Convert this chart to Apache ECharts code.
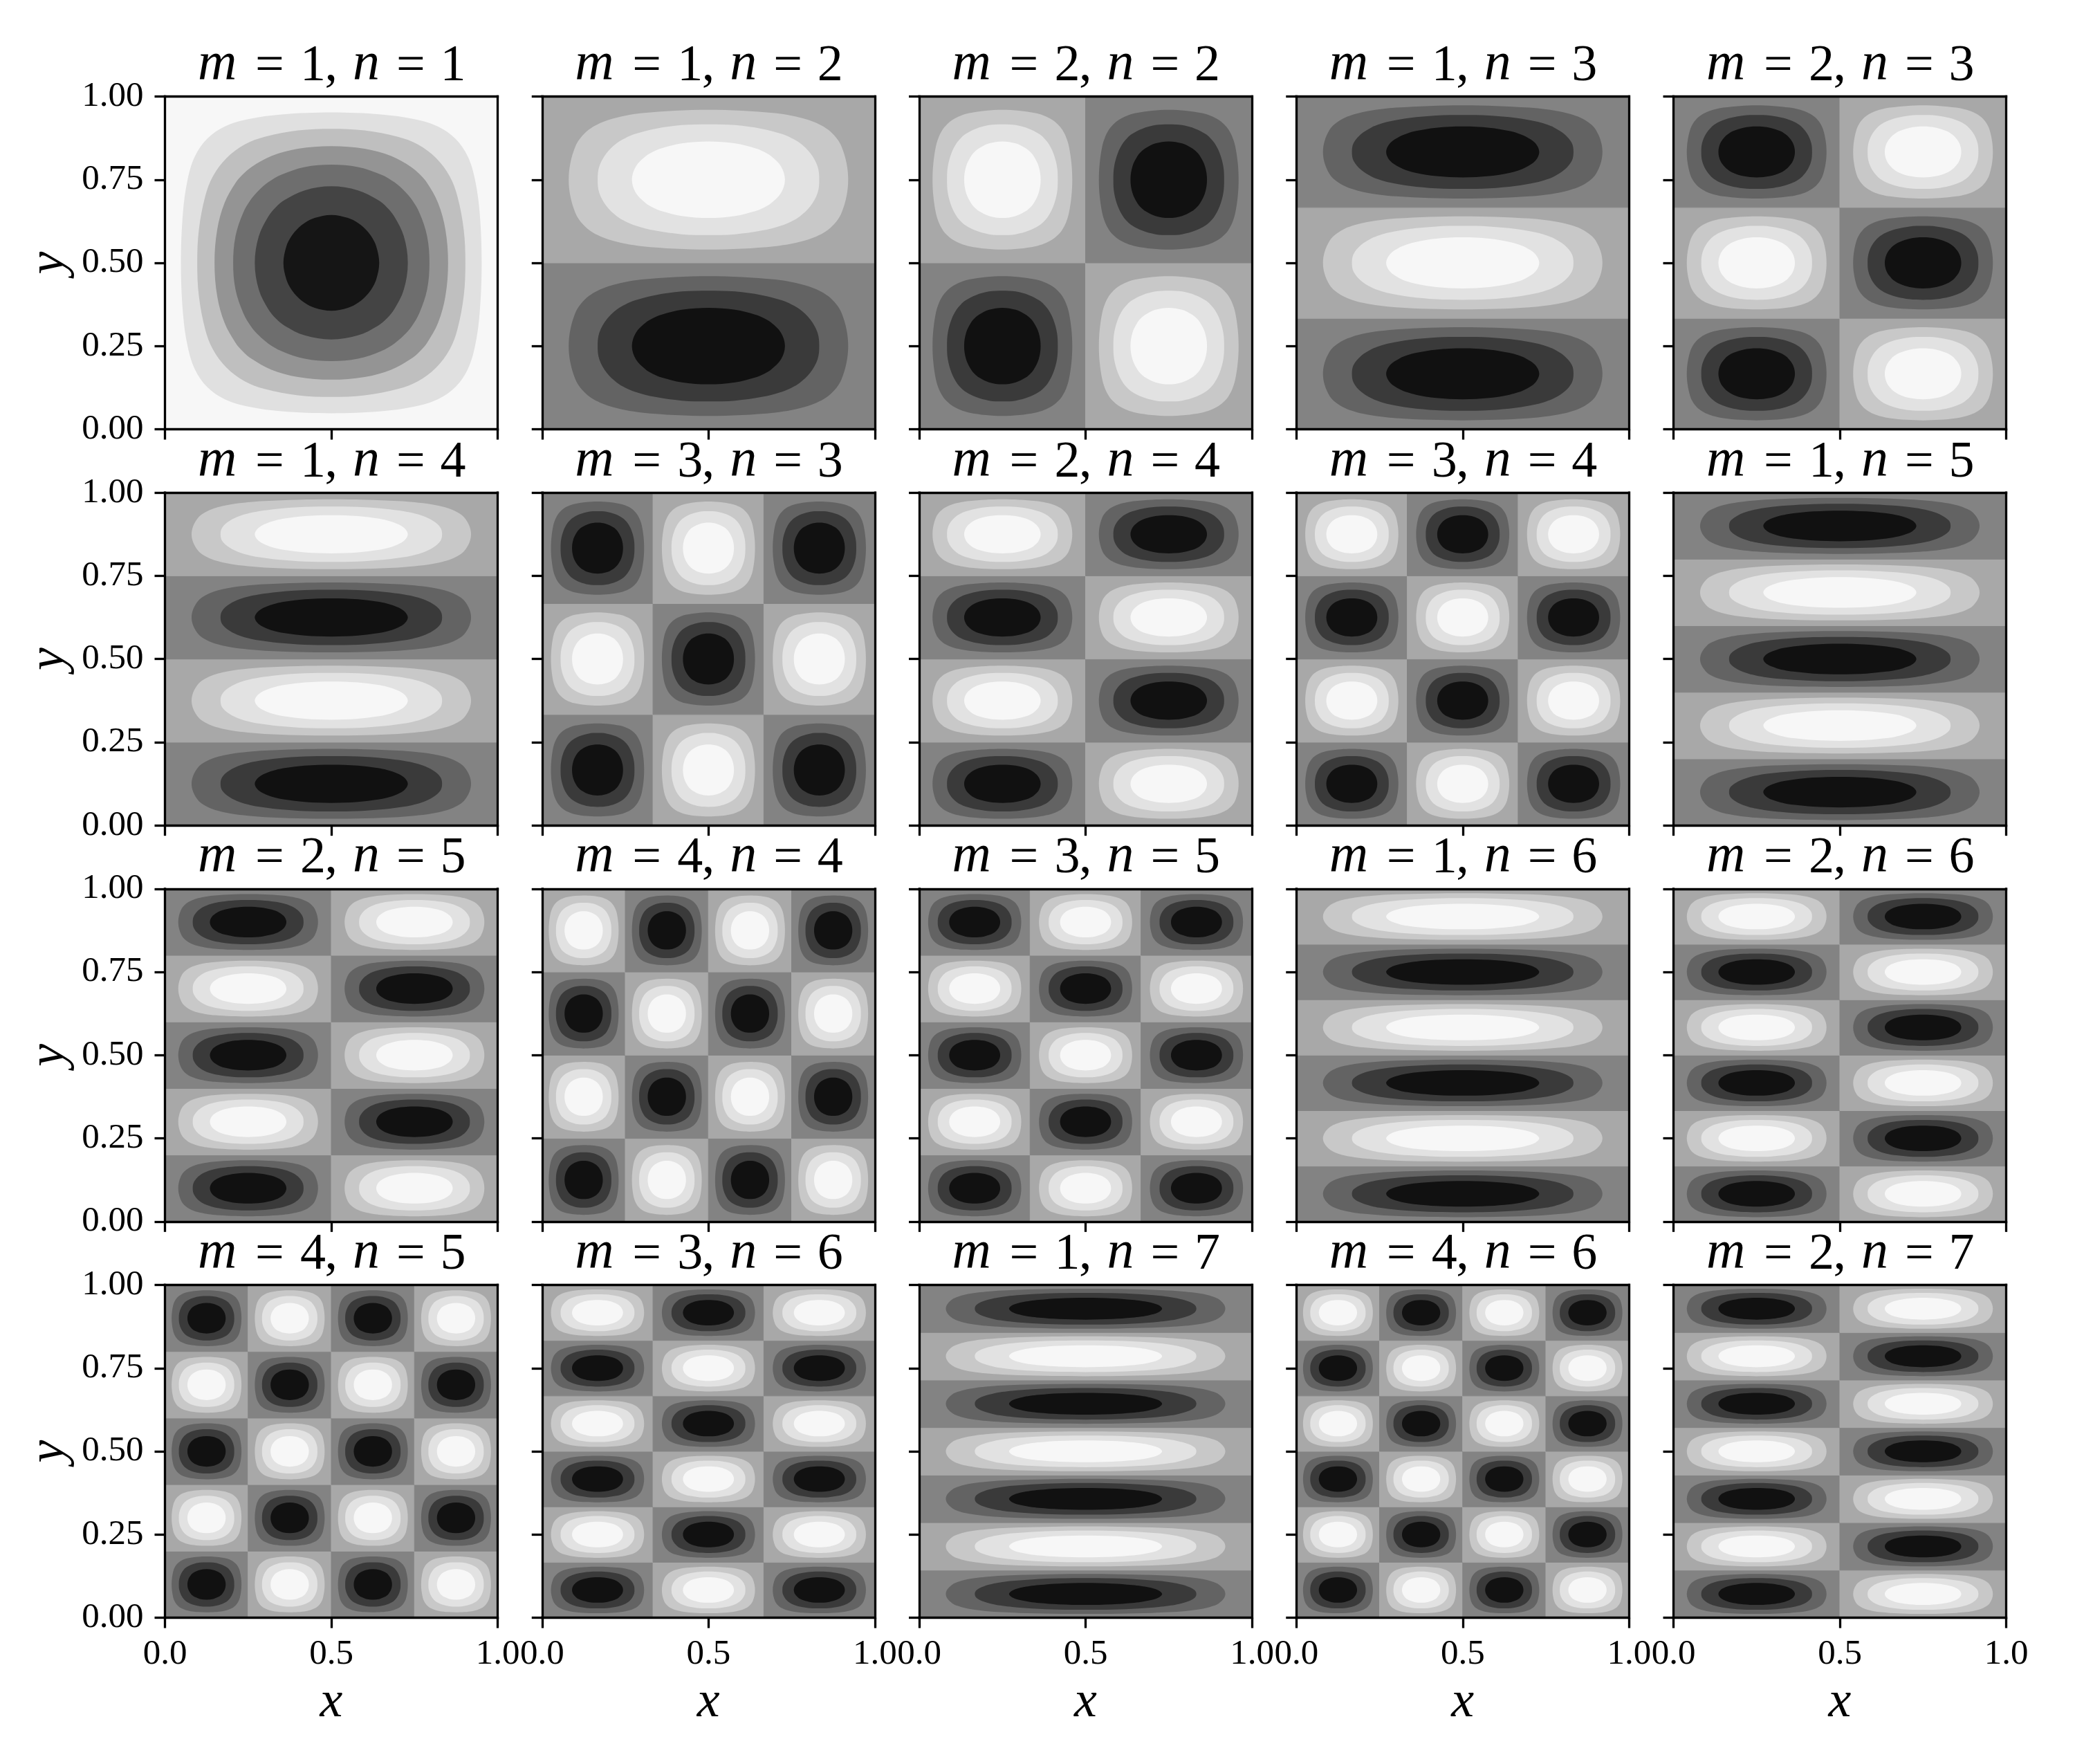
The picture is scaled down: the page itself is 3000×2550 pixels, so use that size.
<!DOCTYPE html>
<html><head><meta charset="utf-8">
<style>html,body{margin:0;padding:0;background:#fff}#c{width:3000px;height:2550px}</style>
<script src="https://cdn.jsdelivr.net/npm/echarts@6/dist/echarts.min.js"></script>
</head><body><div id="c"></div>
<script>
// Mode numbers of each panel, read left-to-right, top-to-bottom from the titles
const modeM = [1,1,2,1,2, 1,3,2,3,1, 2,4,3,1,2, 4,3,1,4,2];
const modeN = [1,2,2,3,3, 4,3,4,4,5, 5,4,5,6,6, 5,6,7,6,7];
const xTicks = ['0.0','0.5','1.0'];
const yTicks = ['0.00','0.25','0.50','0.75','1.00'];

// Contour outlines digitised from the large lobes, one quarter of each ring,
// as (u,v) fractions of a lobe measured from its lower-left corner.
const ringOuter = [[.080,.5],[.085,.4],[.100,.3],[.115,.25],[.140,.2],[.167,.167],[.2,.14],[.25,.115],[.3,.1],[.4,.085],[.5,.08]];
const ringMiddle = [[.167,.5],[.172,.42],[.194,.34],[.225,.28],[.25,.25],[.28,.225],[.34,.194],[.42,.172],[.5,.167]];
const ringInner = [[.270,.5],[.282,.42],[.311,.36],[.333,.333],[.36,.311],[.42,.282],[.5,.27]];
// Rings of the first panel, which has its own levels
const first1 = [[.048,.5],[.054,.35],[.068,.25],[.09,.18],[.127,.127],[.18,.09],[.25,.068],[.35,.054],[.5,.048]];
const first2 = [[.097,.5],[.102,.4],[.121,.3],[.144,.24],[.185,.185],[.24,.144],[.3,.121],[.4,.102],[.5,.097]];
const first3 = [[.149,.5],[.157,.4],[.179,.32],[.212,.26],[.234,.234],[.26,.212],[.32,.179],[.4,.157],[.5,.149]];
const first4 = [[.205,.5],[.212,.42],[.235,.35],[.258,.31],[.282,.282],[.31,.258],[.35,.235],[.42,.212],[.5,.205]];
const first5 = ringInner;
const first6 = [[.356,.5],[.365,.45],[.38,.42],[.398,.398],[.42,.38],[.45,.365],[.5,.356]];

// Band greys, outermost first
const darkBands = ['#838383','#636363','#3a3a3a','#111111'];
const lightBands = ['#a8a8a8','#c8c8c8','#e2e2e2','#f7f7f7'];
const firstBands = ['#f7f7f7','#e0e0e0','#bfbfbf','#949494','#6e6e6e','#444444','#151515'];

const FONT = '"Liberation Serif"';
const LEFT0 = 238.5, TOP0 = 139.5, SIZE = 481, PITCHX = 545.25, PITCHY = 572.67;

function closeRing(q){
  // mirror one quarter into the full closed outline
  const a = q.slice();
  const b = q.slice(0,-1).reverse().map(p=>[1-p[0],p[1]]);
  const c = q.slice(1).map(p=>[1-p[0],1-p[1]]);
  const d = q.slice(1,-1).reverse().map(p=>[p[0],1-p[1]]);
  return a.concat(b,c,d);
}
const stdRings = [ringOuter,ringMiddle,ringInner].map(closeRing);
const firstRings = [first1,first2,first3,first4,first5,first6].map(closeRing);

function panelData(m,n,idx){
  const out = [];
  const single = idx===0;
  for(let i=0;i<m;i++) for(let j=0;j<n;j++){
    const pos = (i+j)%2===0;
    const count = single?7:4;
    for(let k=0;k<count;k++) out.push([i/m,(i+1)/m,j/n,(j+1)/n,k,pos?1:0]);
  }
  return out;
}
function makeRender(idx){
  return function(params,api){
    const x0=api.value(0),x1=api.value(1),y0=api.value(2),y1=api.value(3),k=api.value(4),pos=api.value(5);
    const single = idx===0;
    const bands = single?firstBands:(pos?darkBands:lightBands);
    const rings = single?firstRings:stdRings;
    const col = bands[k];
    const corner = [[0,0],[1,0],[1,1],[0,1]];
    const pts = (k===0?corner:rings[k-1]).map(p=>api.coord([x0+(x1-x0)*p[0],y0+(y1-y0)*p[1]]));
    return {type:'polygon',shape:{points:pts,smooth:k===0?0:0.35},
      style:{fill:col,stroke:col,lineWidth:k===0?1:0}};
  };
}

const grid=[],xAxis=[],yAxis=[],series=[],title=[];
const tok = (extra)=>Object.assign({fontFamily:FONT,fontWeight:'normal',align:'left',color:'#000',lineHeight:90,verticalAlign:'bottom'},extra);
const richTitle = {
  m:tok({fontStyle:'italic',fontSize:78,width:83}),
  n:tok({fontStyle:'italic',fontSize:78,width:63}),
  e:tok({fontSize:74,width:65}),
  f:tok({fontSize:74,width:63.4}),
  d:tok({fontSize:74,width:35.5}),
  c:tok({fontSize:74,width:40.5})
};
modeM.forEach((m,idx)=>{
  const n = modeN[idx], col = idx%5, row = Math.floor(idx/5);
  const left = LEFT0+col*PITCHX, top = TOP0+row*PITCHY;
  const isBottom = row===3, isLeft = col===0;
  grid.push({left,top,width:SIZE,height:SIZE,containLabel:false,show:false});
  const a = grid.length-1;
  const spine = {color:'#000',width:3.3,cap:'square'};
  xAxis.push({type:'value',gridIndex:a,min:0,max:1,interval:0.5,position:'bottom',z:5,
    name:isBottom?'x':'',nameLocation:'middle',nameGap:86,
    nameTextStyle:{fontFamily:FONT,fontStyle:'italic',fontSize:74,color:'#000'},
    axisLine:{show:true,onZero:false,lineStyle:spine},
    axisTick:{show:true,length:15,inside:false,lineStyle:{color:'#000',width:3.3}},
    axisLabel:{show:isBottom,showMinLabel:true,showMaxLabel:true,hideOverlap:false,margin:28,fontFamily:FONT,fontSize:51,color:'#000',
      formatter:(v)=>xTicks[Math.round(v*2)]},
    splitLine:{show:false}});
  xAxis.push({type:'value',gridIndex:a,min:0,max:1,position:'top',z:5,
    axisLine:{show:true,onZero:false,lineStyle:spine},axisTick:{show:false},axisLabel:{show:false},splitLine:{show:false}});
  yAxis.push({type:'value',gridIndex:a,min:0,max:1,interval:0.25,position:'left',z:5,
    name:isLeft?'y':'',nameLocation:'middle',nameGap:130,
    nameTextStyle:{fontFamily:FONT,fontStyle:'italic',fontSize:74,color:'#000'},
    axisLine:{show:true,onZero:false,lineStyle:spine},
    axisTick:{show:true,length:15,inside:false,lineStyle:{color:'#000',width:3.3}},
    axisLabel:{show:isLeft,showMinLabel:true,showMaxLabel:true,hideOverlap:false,margin:31,fontFamily:FONT,fontSize:51,color:'#000',
      padding:[7,0,0,0],
      formatter:(v)=>yTicks[Math.round(v*4)]},
    splitLine:{show:false}});
  yAxis.push({type:'value',gridIndex:a,min:0,max:1,position:'right',z:5,
    axisLine:{show:true,onZero:false,lineStyle:spine},axisTick:{show:false},axisLabel:{show:false},splitLine:{show:false}});
  series.push({type:'custom',coordinateSystem:'cartesian2d',xAxisIndex:a*2,yAxisIndex:a*2,
    data:panelData(m,n,idx),renderItem:makeRender(idx),clip:true,silent:true,animation:false,
    encode:{x:[0,1],y:[2,3]}});
  title.push({text:`{m|m}{e|=}{d|${m}}{c|,}{n|n}{f|=}{d|${n}}`,left:left+SIZE/2-198,top:top-101,textAlign:'left',
    textStyle:{fontWeight:'normal',rich:richTitle}});
});
const chart = echarts.init(document.getElementById('c'),null,{renderer:'canvas',width:3000,height:2550});
chart.setOption({animation:false,backgroundColor:'#fff',tooltip:{show:false},title,grid,xAxis,yAxis,series});
</script></body></html>
